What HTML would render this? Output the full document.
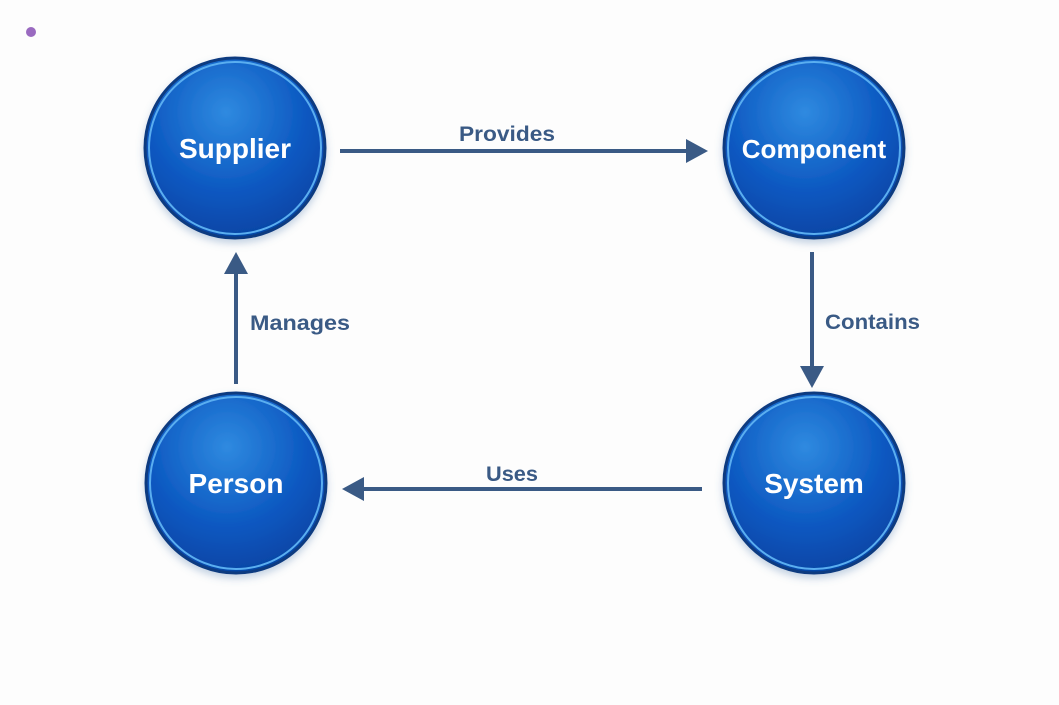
<!DOCTYPE html>
<html><head><style>
body{margin:0;width:1059px;height:700px;background:#fdfdfd;overflow:hidden;font-family:"Liberation Sans",sans-serif}
</style></head><body>
<svg width="1059" height="700" viewBox="0 0 1059 700">
<defs>
<radialGradient id="g" cx="0.45" cy="0.3" r="0.75">
<stop offset="0" stop-color="#2f8ae0"/>
<stop offset="0.6" stop-color="#0b57c0"/>
<stop offset="1" stop-color="#0542a0"/>
</radialGradient>
<filter id="s" x="-20%" y="-20%" width="140%" height="140%"><feDropShadow dx="0" dy="4" stdDeviation="4" flood-color="#5580b0" flood-opacity="0.35"/></filter>
</defs>
<circle cx="31" cy="32" r="5" fill="#9a6ac0"/>
<g font-weight="bold" font-size="28" fill="#fff" text-anchor="middle">
<g filter="url(#s)">
<circle cx="235" cy="148" r="90" fill="url(#g)" stroke="#0a3a80" stroke-width="3"/>
<circle cx="814" cy="148" r="90" fill="url(#g)" stroke="#0a3a80" stroke-width="3"/>
<circle cx="236" cy="483" r="90" fill="url(#g)" stroke="#0a3a80" stroke-width="3"/>
<circle cx="814" cy="483" r="90" fill="url(#g)" stroke="#0a3a80" stroke-width="3"/>
</g>
<circle cx="235" cy="148" r="86" fill="none" stroke="#5aaef0" stroke-width="2"/>
<circle cx="814" cy="148" r="86" fill="none" stroke="#5aaef0" stroke-width="2"/>
<circle cx="236" cy="483" r="86" fill="none" stroke="#5aaef0" stroke-width="2"/>
<circle cx="814" cy="483" r="86" fill="none" stroke="#5aaef0" stroke-width="2"/>
<text x="235" y="158">Supplier</text>
<text x="814" y="158" font-size="26">Component</text>
<text x="236" y="493">Person</text>
<text x="814" y="493">System</text>
</g>
<g stroke="#3a5a85" stroke-width="4" fill="#3a5a85">
<line x1="340" y1="151" x2="688" y2="151"/>
<polygon points="686,139 708,151 686,163" stroke="none"/>
<line x1="812" y1="252" x2="812" y2="368"/>
<polygon points="800,366 812,388 824,366" stroke="none"/>
<line x1="702" y1="489" x2="362" y2="489"/>
<polygon points="364,477 342,489 364,501" stroke="none"/>
<line x1="236" y1="384" x2="236" y2="272"/>
<polygon points="224,274 236,252 248,274" stroke="none"/>
</g>
<g font-weight="bold" font-size="21" fill="#3a5a85">
<text x="459" y="141" textLength="96" lengthAdjust="spacingAndGlyphs">Provides</text>
<text x="825" y="329" textLength="95" lengthAdjust="spacingAndGlyphs">Contains</text>
<text x="486" y="481" textLength="52" lengthAdjust="spacingAndGlyphs">Uses</text>
<text x="250" y="330" textLength="100" lengthAdjust="spacingAndGlyphs">Manages</text>
</g>
</svg>
</body></html>
